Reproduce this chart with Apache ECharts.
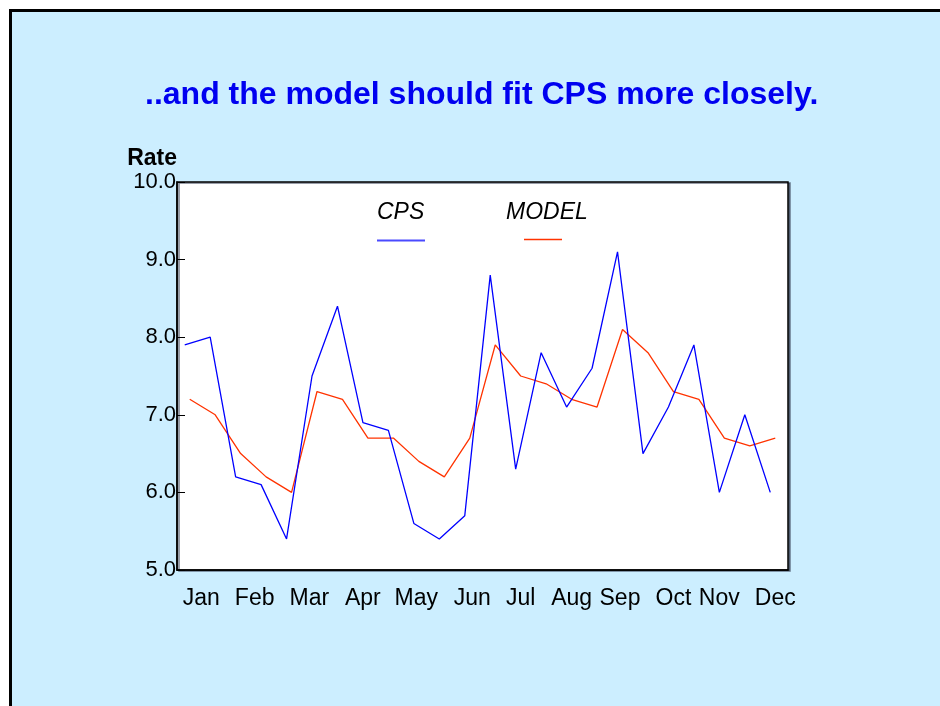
<!DOCTYPE html>
<html>
<head>
<meta charset="UTF-8">
<title>CPS vs MODEL</title>
<style type="text/css">
	html, body { margin: 0; padding: 0; background: #fff; overflow: hidden; }
	#frame { position: absolute; left: 9px; top: 9px; width: 960px; height: 720px;
		background: #cceeff; border-top: 3px solid #000; border-left: 3px solid #000; }
	#main { position: absolute; left: 0; top: 0; width: 940px; height: 706px; }
</style>
<script type="text/javascript" src="https://cdn.jsdelivr.net/npm/echarts@6/dist/echarts.min.js"></script>
</head>
<body>
	<div id="frame"></div>
	<div id="main"></div>
<script type="text/javascript">
	// two readings per month, Jan..Dec
	var points = ['J1','J2','F1','F2','M1','M2','A1','A2','Y1','Y2','U1','U2',
		'L1','L2','G1','G2','S1','S2','O1','O2','N1','N2','D1','D2'];
	var cps = [7.9, 8.0, 6.2, 6.1, 5.4, 7.5, 8.4, 6.9, 6.8, 5.6, 5.4, 5.7,
		8.8, 6.3, 7.8, 7.1, 7.6, 9.1, 6.5, 7.1, 7.9, 6.0, 7.0, 6.0];
	var model = [7.2, 7.0, 6.5, 6.2, 6.0, 7.3, 7.2, 6.7, 6.7, 6.4, 6.2, 6.7,
		7.9, 7.5, 7.4, 7.2, 7.1, 8.1, 7.8, 7.3, 7.2, 6.7, 6.6, 6.7];
	// month labels and where they sit along the point index
	var months = ['Jan','Feb','Mar','Apr','May','Jun','Jul','Aug','Sep','Oct','Nov','Dec'];
	var monthAt = [0.45, 2.55, 4.7, 6.8, 8.9, 11.1, 13, 15, 16.9, 19, 20.8, 23];
	var yTicks = [5, 6, 7, 8, 9, 10];

	var font = "'Liberation Sans', Arial, sans-serif";
	var mychar = echarts.init(document.getElementById('main'));

	var option = {
		animation: false,
		textStyle: { fontFamily: font },
		title: {
			text: '..and the model should fit CPS more closely.',
			left: 145,
			top: 79,
			padding: 0,
			textStyle: { color: '#0000f0', fontSize: 32, fontWeight: 'bold', fontFamily: font }
		},
		grid: [
			{ left: 177, top: 182, width: 611, height: 388, show: true,
			  backgroundColor: '#fff', borderColor: '#000', borderWidth: 1.5,
			  shadowColor: 'rgba(60,70,90,0.7)', shadowOffsetX: 2, shadowOffsetY: 1 },
			// CPS is drawn a few pixels left of the model in the original
			{ left: 172, top: 182, width: 611, height: 388, show: false }
		],
		xAxis: [
			{ type: 'category', gridIndex: 0, data: points, boundaryGap: true,
			  axisLine: { onZero: false, lineStyle: { color: '#000', width: 1.5 } },
			  axisTick: { inside: true, length: 3, alignWithLabel: true, lineStyle: { color: '#333' } },
			  axisLabel: { show: false } },
			{ type: 'value', gridIndex: 0, min: -0.5, max: 23.5, position: 'bottom',
			  axisLine: { show: false, onZero: false }, axisTick: { show: false }, splitLine: { show: false },
			  axisLabel: { customValues: monthAt, margin: 17, color: '#000', fontSize: 23,
			    formatter: function (v) { return months[monthAt.indexOf(v)]; } } },
			{ type: 'category', gridIndex: 1, data: points, boundaryGap: true, show: false }
		],
		yAxis: [
			{ type: 'value', gridIndex: 0, min: yTicks[0], max: yTicks[yTicks.length - 1], interval: 1,
			  name: 'Rate', nameLocation: 'end', nameGap: 12,
			  nameTextStyle: { color: '#000', fontSize: 23, fontWeight: 'bold', align: 'right', fontFamily: font },
			  axisLine: { show: true, onZero: false, lineStyle: { color: '#000', width: 1.5 } },
			  axisTick: { show: true, inside: true, length: 8, lineStyle: { color: '#000' } },
			  splitLine: { show: false },
			  axisLabel: { margin: 1, color: '#000', fontSize: 22, padding: [5, 0, 0, 0],
			    formatter: function (v) { return v.toFixed(1); } } },
			{ type: 'value', gridIndex: 1, min: 5, max: 10, show: false, splitLine: { show: false } }
		],
		graphic: [
			{ type: 'text', left: 377, top: 201, style: { text: 'CPS', font: 'italic 23px ' + font, fill: '#000' } },
			{ type: 'line', shape: { x1: 377, y1: 240.5, x2: 425, y2: 240.5 }, style: { stroke: '#4a4aff', lineWidth: 2 } },
			{ type: 'text', left: 506, top: 201, style: { text: 'MODEL', font: 'italic 23px ' + font, fill: '#000' } },
			{ type: 'line', shape: { x1: 524, y1: 239.5, x2: 562, y2: 239.5 }, style: { stroke: '#ff3300', lineWidth: 1.5 } }
		],
		series: [
			{ name: 'MODEL', type: 'line', xAxisIndex: 0, yAxisIndex: 0, data: model,
			  symbol: 'none', lineStyle: { color: '#ff3300', width: 1.3 } },
			{ name: 'CPS', type: 'line', xAxisIndex: 2, yAxisIndex: 1, data: cps,
			  symbol: 'none', lineStyle: { color: '#0000ff', width: 1.3 } }
		]
	};
	mychar.setOption(option);
</script>
</body>
</html>
